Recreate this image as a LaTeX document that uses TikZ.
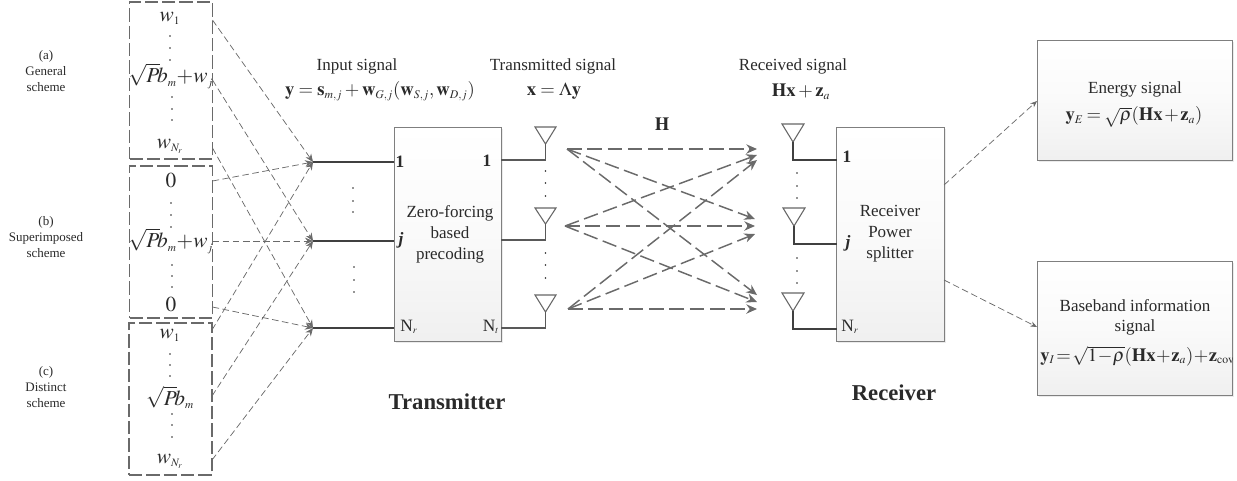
\documentclass[tikz,border=0pt]{standalone}
\usepackage{amsmath}
\usepackage{mathptmx}
\usepackage[no-math]{fontspec}
\setmainfont{Liberation Serif}
\usetikzlibrary{fit,shadows,arrows.meta}
\DeclareMathSizes{16}{16}{8.5}{6.5}
\DeclareMathSizes{14}{14}{8.8}{6.5}
\DeclareMathSizes{13}{13}{7.5}{6}
\definecolor{ink}{HTML}{2A2A2A}
\definecolor{edge}{HTML}{7F7F7F}
\definecolor{dashc}{HTML}{6A6A6A}
\definecolor{wirec}{HTML}{404040}
\newcommand{\fs}[1]{\fontsize{#1}{#1}\selectfont}
\newcommand{\bigfont}{\fs{16}\medmuskip 0mu\relax}
\newcommand{\tightfont}{\fs{14}\medmuskip 1.5mu\relax\thickmuskip 3mu\relax}
\newcommand{\tighterfont}{\fs{14}\medmuskip 0.5mu\relax\thickmuskip 1.5mu\relax}
\tikzset{
  x=0.75pt,y=-0.75pt,
  lbl/.style={inner sep=0pt,text=ink,font=\fs{12.75},align=center},
  small/.style={inner sep=0pt,text=ink,font=\fs{9.75},align=center},
  big/.style={inner sep=0pt,text=ink,font=\bigfont},
  head/.style={inner sep=0pt,text=ink,font=\fs{17}\bfseries},
  port/.style={inner sep=0pt,text=ink,font=\fs{13}},
  eq/.style={inner sep=0pt,text=ink,font=\fs{14}},
  eqtight/.style={inner sep=0pt,text=ink,font=\tightfont},
  eqtighter/.style={inner sep=0pt,text=ink,font=\tighterfont},
  blockbox/.style={draw=edge,line width=0.7pt,inner sep=0pt,top color=white,bottom color=black!6,middle color=white!98!black,
     drop shadow={shadow xshift=1.2pt,shadow yshift=-1.2pt,fill=black!8,opacity=1}},
  groupbox/.style={draw=dashc,line width=1.1pt,inner sep=0pt,dash pattern=on 10pt off 3pt},
  feed/.style={draw=dashc,line width=0.55pt,dash pattern=on 5pt off 2.6pt,-{Stealth[length=6pt,width=5pt]}},
  split/.style={draw=dashc,line width=0.55pt,dash pattern=on 5pt off 2.6pt,-{Stealth[length=5pt,width=4pt]}},
  chan/.style={draw=dashc,line width=1.1pt,dash pattern=on 11pt off 4.2pt,-{Stealth[length=8pt,width=7pt]}},
  wire/.style={draw=wirec,line width=0.9pt},
  ant/.style={draw=edge!80!black,line width=0.8pt,line join=miter},
  dotm/.style={fill=ink,circle,inner sep=0pt,minimum size=1.3pt},
}
\begin{document}
\begin{tikzpicture}
\useasboundingbox (0,0) rectangle (1237,480);
% corner coordinates
\coordinate (ga1) at (129.5,2);   \coordinate (ga2) at (212.5,159);
\coordinate (gb1) at (129.5,166); \coordinate (gb2) at (212.5,318);
\coordinate (gc1) at (129,323);   \coordinate (gc2) at (212,475);
\coordinate (t1) at (394,127);  \coordinate (t2) at (501,341);
\coordinate (r1) at (836.5,127);\coordinate (r2) at (944,341);
\coordinate (e1) at (1037,40.5);\coordinate (e2) at (1232.5,160.5);
\coordinate (b1) at (1037,261); \coordinate (b2) at (1232.5,395);
% boxes
\node[groupbox,fit=(ga1)(ga2)] (groupA) {};
\node[groupbox,fit=(gb1)(gb2)] (groupB) {};
\node[groupbox,fit=(gc1)(gc2)] (groupC) {};
\node[blockbox,fit=(t1)(t2)] (tx) {};
\node[blockbox,fit=(r1)(r2)] (rx) {};
\node[blockbox,fit=(e1)(e2)] (energy) {};
\node[blockbox,fit=(b1)(b2)] (base) {};
% feed sources
\coordinate (a1) at (212.5,20);  \coordinate (a2) at (212.5,80);  \coordinate (a3) at (212.5,148);
\coordinate (b1s) at (212.5,181);\coordinate (b2s) at (212.5,241);\coordinate (b3s) at (212.5,307);
\coordinate (c1) at (212,330);   \coordinate (c2) at (212,396);   \coordinate (c3) at (212,460);
\coordinate (in1) at (313,162);  \coordinate (in2) at (313,241);  \coordinate (in3) at (313,328);
\coordinate (tin1) at (394,162); \coordinate (tin2) at (394,241); \coordinate (tin3) at (394,328);
\draw[wire] (in1) -- (tin1);
\draw[wire] (in2) -- (tin2);
\draw[wire] (in3) -- (tin3);
\draw[feed] (a1) -- (in1);
\draw[feed] (a2) -- (in2);
\draw[feed] (a3) -- (in3);
\draw[feed] (b1s) -- (in1);
\draw[feed] (b2s) -- (in2);
\draw[feed] (b3s) -- (in3);
\draw[feed] (c1) -- (in1);
\draw[feed] (c2) -- (in2);
\draw[feed] (c3) -- (in3);
% transmit antennas
\coordinate (ta1) at (545.5,144); \coordinate (ta2) at (545.5,224); \coordinate (ta3) at (545.5,312);
\coordinate (tp1) at (501,160);   \coordinate (tp2) at (501,240);   \coordinate (tp3) at (501,328);
\draw[ant] (535,127) -- (556,127) -- (ta1) -- cycle;
\draw[ant] (535,208) -- (556,208) -- (ta2) -- cycle;
\draw[ant] (535,295) -- (556,295) -- (ta3) -- cycle;
\draw[wire,draw=edge!70!black] (ta1) |- (tp1);
\draw[wire,draw=edge!70!black] (ta2) |- (tp2);
\draw[wire,draw=edge!70!black] (ta3) |- (tp3);
% receive antennas
\coordinate (ra1) at (793,142); \coordinate (ra2) at (794,226); \coordinate (ra3) at (793,311);
\coordinate (rp1) at (836.5,160);\coordinate (rp2) at (836.5,244);\coordinate (rp3) at (836.5,329);
\draw[ant] (782,124) -- (804,124) -- (ra1) -- cycle;
\draw[ant] (783,208) -- (805,208) -- (ra2) -- cycle;
\draw[ant] (782,293) -- (804,293) -- (ra3) -- cycle;
\draw[wire] (ra1) |- (rp1);
\draw[wire] (ra2) |- (rp2);
\draw[wire] (ra3) |- (rp3);
% channel
\coordinate (s1) at (567,149); \coordinate (s2) at (565,226); \coordinate (s3) at (568,309);
\coordinate (d11) at (757,149); \coordinate (d12) at (755,219); \coordinate (d13) at (757,295);
\coordinate (d21) at (757,155); \coordinate (d22) at (755,226); \coordinate (d23) at (757,302);
\coordinate (d31) at (757,160); \coordinate (d32) at (755,234); \coordinate (d33) at (757,309);
\draw[chan] (s1) -- (d11);
\draw[chan] (s1) -- (d12);
\draw[chan] (s1) -- (d13);
\draw[chan] (s2) -- (d21);
\draw[chan] (s2) -- (d22);
\draw[chan] (s2) -- (d23);
\draw[chan] (s3) -- (d31);
\draw[chan] (s3) -- (d32);
\draw[chan] (s3) -- (d33);
% receiver outputs
\coordinate (o1) at (944,185); \coordinate (o2) at (944,280);
\coordinate (i1) at (1037,101);\coordinate (i2) at (1037,327);
\draw[split] (o1) -- (i1);
\draw[split] (o2) -- (i2);
% dots
\foreach \x/\y in {170/36,170/48,170/60,172/97,172/109,172/120,
  171/203,171/215,171/227,172/265,172/276,172/287,
  170/354,170/365,170/376,172/414,172/425,172/437,
  353/188,353/201,353/212,354/267,354/280,354/292,
  545.5/171,545.5/183,545.5/196,545.5/253,545.5/265,545.5/278,
  797/173,797/186,797/198,797/258,797/271,797/283}
  \node[dotm] at (\x,\y) {};
% side labels
\node[small] (la) at (46,71) {(a)\\[2.3pt]General\\[2.3pt]scheme};
\node[small] (lb) at (46,237) {(b)\\[2.3pt]Superimposed\\[2.3pt]scheme};
\node[small] (lc) at (46,387) {(c)\\[2.3pt]Distinct\\[2.3pt]scheme};
% entries
\node[big] (w1a) at (170,18) {$w_1$};
\node[big] (sa) at (171,76) {$\sqrt{P}\!b_m+w_j$};
\node[big] (wna) at (170,146) {$w_{N_r}$};
\node[big] (z1) at (171,181) {$0$};
\node[big] (sb) at (171,241) {$\sqrt{P}\!b_m+w_j$};
\node[big] (z2) at (171,305) {$0$};
\node[big] (w1c) at (170,335) {$w_1$};
\node[big] (sc) at (170,397) {$\sqrt{P}\!b_m$};
\node[big] (wnc) at (170,461) {$w_{N_r}$};
% headers
\node[lbl] (his) at (357,66) {Input signal};
\node[eq] (hie) at (380,91) {$\mathbf{y}=\mathbf{s}_{m,j}+\mathbf{w}_{G,j}(\mathbf{w}_{S,j},\mathbf{w}_{D,j})$};
\node[lbl] (hts) at (553,66) {Transmitted signal};
\node[eq] (hte) at (554,91) {$\mathbf{x}=\boldsymbol{\Lambda}\mathbf{y}$};
\node[lbl] (hrs) at (793,66) {Received signal};
\node[eq] (hre) at (801,92) {$\mathbf{Hx}+\mathbf{z}_a$};
\node[eq] (hH) at (662,124) {$\mathbf{H}$};
\node[head] (ht) at (447,402) {Transmitter};
\node[head] (hr) at (894,393) {Receiver};
% ports
\node[port] (p1) at (400,162) {\textbf{1}};
\node[port] (pj) at (401,240) {\textbf{\textit{j}}};
\node[port] (pn) at (409,327) {N$_r$};
\node[port] (q1) at (487,161) {\textbf{1}};
\node[port] (qn) at (491,327) {N$_t$};
\node[lbl] (tl) at (450,234) {Zero-forcing\\[3pt]based\\[3pt]precoding};
\node[port] (u1) at (847,157) {\textbf{1}};
\node[port] (uj) at (848,243) {\textbf{\textit{j}}};
\node[port] (un) at (850,327) {N$_r$};
\node[lbl] (rl) at (890,234) {Receiver\\[3pt]Power\\[3pt]splitter};
% right boxes
\node[lbl] (el) at (1135,89) {Energy signal};
\node[eqtight] (ee) at (1134,117) {$\mathbf{y}_E=\sqrt{\rho}(\mathbf{Hx}+\mathbf{z}_a)$};
\node[lbl] (bl) at (1135,317) {Baseband information\\[2.3pt]signal};
\begin{scope}
\clip (1037,340) rectangle (1232,375);
\node[eqtighter,anchor=west] (be) at (1040,356) {$\mathbf{y}_I=\sqrt{1-\rho}(\mathbf{Hx}+\mathbf{z}_a)+\mathbf{z}_{\mathrm{cov}}$};
\end{scope}
\end{tikzpicture}
\end{document}
